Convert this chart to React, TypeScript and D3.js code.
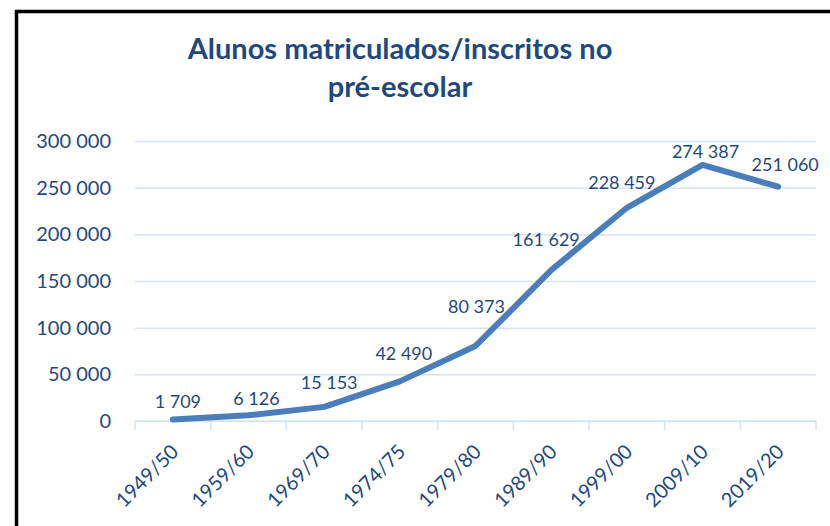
import * as d3 from 'd3';
import * as React from 'react';

const { useRef, useEffect } = React;

const width = 830;
const height = 526;
const margin = { top: 141, right: 14, bottom: 105, left: 135 };

const titleLines = ['Alunos matriculados/inscritos no', 'pré-escolar'];

const years = [
  '1949/50',
  '1959/60',
  '1969/70',
  '1974/75',
  '1979/80',
  '1989/90',
  '1999/00',
  '2009/10',
  '2019/20',
];

const students = [1709, 6126, 15153, 42490, 80373, 161629, 228459, 274387, 251060];

const yTicks = [0, 50000, 100000, 150000, 200000, 250000, 300000];

// label nudges (px) so they sit where Excel put them
const labelDx = [5, 8, 5, 4, 1, -5, -5, 3, 7];
const labelDy = [-18, -17, -24, -28, -39, -30, -25, -13, -22];

const textColor = '#1f497d';
const lineColor = '#4a7ebb';
const gridColor = '#d6e3f4';
const font = 'Lato, "Open Sans", sans-serif';

const fmt = (v: number) => d3.format(',')(v).replace(/,/g, ' ');

export default () => {
  const rootRef = useRef<SVGSVGElement>(null);

  useEffect(() => {
    const svg = d3.select(rootRef.current);
    svg.selectAll('*').remove();

    const x = d3
      .scaleBand()
      .domain(years)
      .range([margin.left, width - margin.right]);

    const y = d3
      .scaleLinear()
      .domain([0, 300000])
      .range([height - margin.bottom, margin.top]);

    // frame
    svg
      .append('rect')
      .attr('x', 16.5)
      .attr('y', 11.5)
      .attr('width', 900)
      .attr('height', 700)
      .attr('fill', 'white')
      .attr('stroke', '#000')
      .attr('stroke-width', 3.5);

    // title
    svg
      .append('g')
      .selectAll('text')
      .data(titleLines)
      .join('text')
      .attr('x', 400)
      .attr('y', (d, i) => 59 + i * 38)
      .attr('text-anchor', 'middle')
      .attr('font-family', font)
      .attr('font-weight', 'bold')
      .attr('font-size', 29)
      .attr('fill', textColor)
      .text(d => d);

    // gridlines + y labels
    const yAxis = (g: d3.Selection<any, any, any, any>) =>
      g
        .attr('transform', `translate(${margin.left},0)`)
        .call(
          d3
            .axisLeft(y)
            .tickValues(yTicks)
            .tickSize(-(width - margin.left - margin.right))
            .tickPadding(24)
            .tickFormat(d => fmt(d as number)),
        )
        .call(g => g.select('.domain').remove())
        .call(g =>
          g
            .selectAll('.tick line')
            .attr('stroke', gridColor)
            .attr('stroke-width', 1.5),
        )
        .call(g =>
          g
            .selectAll('.tick text')
            .attr('font-family', font)
            .attr('font-size', 20)
            .attr('fill', textColor),
        );

    svg.append('g').call(yAxis);

    // x axis with boundary ticks
    const xAxis = (g: d3.Selection<any, any, any, any>) => {
      g.attr('transform', `translate(0,${y(0)})`);
      g.append('line')
        .attr('x1', margin.left)
        .attr('x2', width - margin.right)
        .attr('stroke', gridColor)
        .attr('stroke-width', 1.5);
      g.selectAll('line.tk')
        .data(years.map(d => x(d) as number).concat([width - margin.right]))
        .join('line')
        .attr('class', 'tk')
        .attr('x1', d => d)
        .attr('x2', d => d)
        .attr('y1', 0)
        .attr('y2', 9)
        .attr('stroke', gridColor)
        .attr('stroke-width', 1.5);
      g.selectAll('text')
        .data(years)
        .join('text')
        .attr(
          'transform',
          d => `translate(${(x(d) as number) + x.bandwidth() / 2 + 2},27) rotate(-45)`,
        )
        .attr('text-anchor', 'end')
        .attr('dy', '0.35em')
        .attr('font-family', font)
        .attr('font-size', 20)
        .attr('fill', textColor)
        .text(d => d);
    };

    svg.append('g').call(xAxis);

    const cx = (i: number) => (x(years[i]) as number) + x.bandwidth() / 2;

    const line = d3
      .line<number>()
      .x((d, i) => cx(i))
      .y(d => y(d));

    svg
      .append('path')
      .datum(students)
      .attr('d', line)
      .attr('fill', 'none')
      .attr('stroke', lineColor)
      .attr('stroke-width', 6)
      .attr('stroke-linecap', 'round')
      .attr('stroke-linejoin', 'round');

    svg
      .append('g')
      .selectAll('text')
      .data(students)
      .join('text')
      .attr('x', (d, i) => cx(i) + labelDx[i])
      .attr('y', (d, i) => y(d) + labelDy[i])
      .attr('dy', '0.35em')
      .attr('text-anchor', 'middle')
      .attr('font-family', font)
      .attr('font-size', 18)
      .attr('fill', textColor)
      .text(d => fmt(d));
  }, []);

  return (
    <svg
      ref={rootRef}
      width={width}
      height={height}
      style={{ position: 'absolute', left: 0, top: 0, display: 'block' }}
    />
  );
};
